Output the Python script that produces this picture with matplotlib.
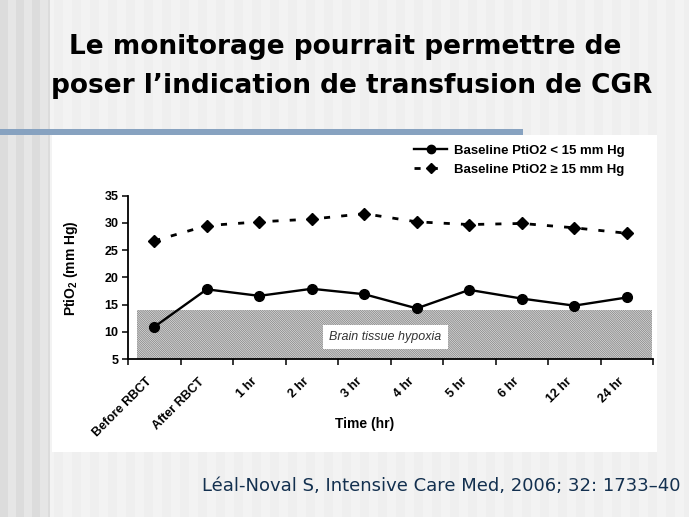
import matplotlib
matplotlib.use('Agg')
import matplotlib.pyplot as plt
import numpy as np
from matplotlib.patches import Rectangle
from matplotlib.lines import Line2D

# ---- data ----
categories = ['Before RBCT', 'After RBCT', '1 hr', '2 hr', '3 hr', '4 hr',
              '5 hr', '6 hr', '12 hr', '24 hr']
low_baseline = [10.9, 17.8, 16.6, 17.9, 16.9, 14.3, 17.7, 16.1, 14.8, 16.3]
high_baseline = [26.7, 29.5, 30.2, 30.7, 31.7, 30.2, 29.7, 29.9, 29.1, 28.1]
hypoxia_threshold = 14
y_ticks = [5, 10, 15, 20, 25, 30, 35]
legend_labels = ['Baseline PtiO2 < 15 mm Hg', 'Baseline PtiO2 \u2265 15 mm Hg']
title_lines = ['Le monitorage pourrait permettre de',
               'poser l\u2019indication de transfusion de CGR']
citation = 'L\u00e9al-Noval S, Intensive Care Med, 2006; 32: 1733\u201340'

plt.rcParams['font.family'] = ['Liberation Sans', 'DejaVu Sans']
plt.rcParams['font.weight'] = 'bold'
plt.rcParams['mathtext.default'] = 'regular'
plt.rcParams['hatch.linewidth'] = 0.55

W, H = 689, 517
fig = plt.figure(figsize=(W / 100, H / 100), dpi=100)

# ---- slide background (pixel coordinates) ----
bg = fig.add_axes([0, 0, 1, 1])
bg.set_xlim(0, W)
bg.set_ylim(H, 0)
bg.axis('off')
xs = np.arange(W)
stripe = np.where(xs < 50,
                  np.where((xs // 8) % 2 == 0, 0.86, 0.90),
                  np.where((xs // 9) % 2 == 0, 0.935, 0.955))
bg.imshow(stripe[None, :], cmap='gray', vmin=0, vmax=1, aspect='auto',
          extent=[0, W, H, 0], interpolation='nearest')
bg.add_patch(Rectangle((0, 129), 523, 6, facecolor='#87a2c0', edgecolor='none'))
bg.add_patch(Rectangle((52, 135), 605, 317, facecolor='white', edgecolor='none'))

bg.text(345, 47, title_lines[0], ha='center', va='center', fontsize=19,
        family='DejaVu Sans', fontweight='bold', color='black')
bg.text(352, 86, title_lines[1], ha='center', va='center', fontsize=19,
        family='DejaVu Sans', fontweight='bold', color='black')
bg.text(680, 486, citation, ha='right', va='center', fontsize=13,
        family='DejaVu Sans', fontweight='normal', color='#13304f')

# ---- chart ----
ax = fig.add_axes([128 / W, 1 - 359 / H, 525 / W, 163.3 / H])
ax.set_facecolor('none')
x = np.arange(len(categories))

ax.fill_between([-0.334, 9.49], 5, hypoxia_threshold, facecolor='white',
                edgecolor='#7a7a7a', hatch='\\' * 18, linewidth=0, zorder=1)
ax.text(4.4, 9.0, 'Brain tissue hypoxia', style='italic', fontweight='normal',
        fontsize=9, color='#333333', ha='center', va='center', zorder=2,
        bbox=dict(boxstyle='square,pad=0.5', facecolor='white', edgecolor='none'))

ax.plot(x, low_baseline, '-o', color='black', lw=1.7, ms=7, zorder=3)
ax.plot(x, high_baseline, linestyle=(0, (2.2, 4.0)), marker='D', color='black',
        lw=2.0, ms=5.8, zorder=3)

ax.set_xlim(-0.5, 9.5)
ax.set_ylim(5, 35)
ax.set_yticks(y_ticks)
ax.set_xticks(np.arange(-0.5, 10, 1))
ax.set_xticklabels([])
ax.set_xticks(x, minor=True)
ax.set_xticklabels(categories, minor=True, rotation=45, ha='right',
                   fontsize=9, fontweight='bold')
ax.tick_params(axis='x', which='minor', length=0, pad=12)
ax.tick_params(axis='x', which='major', length=4, width=1.1, direction='out')
ax.tick_params(axis='y', length=4, width=1.1, direction='out', labelsize=9, pad=3)
for s in ['top', 'right']:
    ax.spines[s].set_visible(False)
for s in ['left', 'bottom']:
    ax.spines[s].set_linewidth(1.3)

bg.text(365, 424, 'Time (hr)', ha='center', va='center', fontsize=10,
        fontweight='bold', zorder=5)
bg.text(71, 268, 'PtiO$_2$ (mm Hg)', ha='center', va='center', fontsize=10,
        fontweight='bold', rotation=90, zorder=5)

handles = [Line2D([], [], color='black', lw=1.7, marker='o', ms=6),
           Line2D([], [], color='black', lw=2.0, marker='D', ms=5.5,
                  linestyle=(0, (2.2, 4.0)))]
ax.legend(handles, legend_labels, loc='upper left',
          bbox_to_anchor=(409 / W, 1 - 139 / H), bbox_transform=fig.transFigure,
          frameon=False, handlelength=2.5, handletextpad=0.5, labelspacing=0.55,
          prop={'size': 9.5, 'weight': 'bold'}, borderaxespad=0)

fig.savefig('out.png', dpi=100)
